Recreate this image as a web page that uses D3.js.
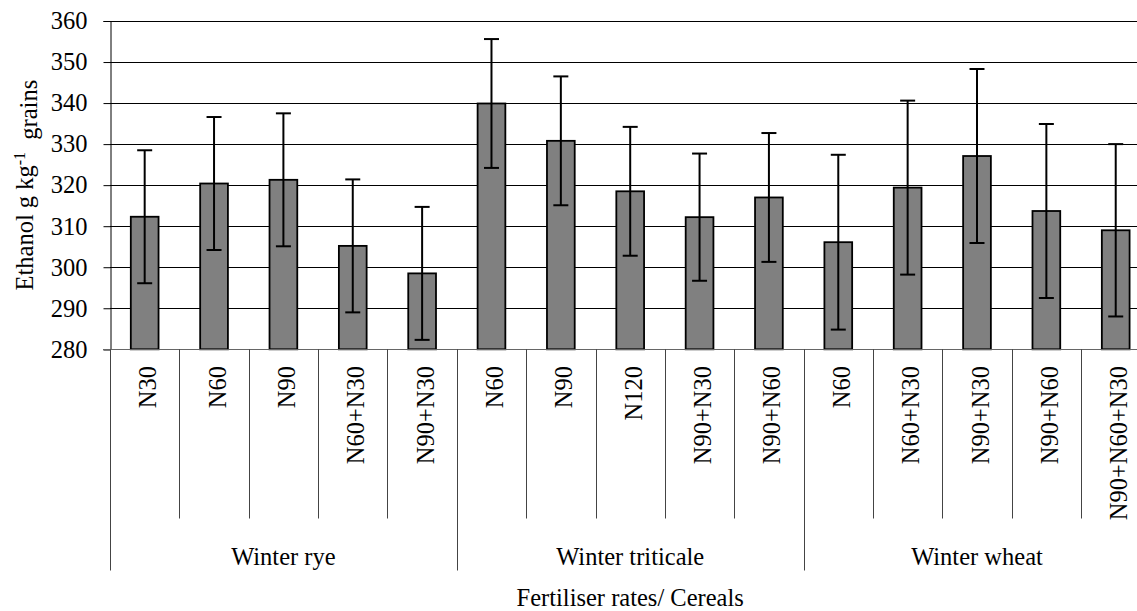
<!DOCTYPE html>
<html>
<head>
<meta charset="utf-8">
<script src="https://cdn.jsdelivr.net/npm/d3@7"></script>
<style>
  body { margin: 0; background: #fff; }
</style>
</head>
<body>
<script>
// data
var cereals = ["Winter rye", "Winter triticale", "Winter wheat"];
var rates = ["N30", "N60", "N90", "N60+N30", "N90+N30",
             "N60", "N90", "N120", "N90+N30", "N90+N60",
             "N60", "N60+N30", "N90+N30", "N90+N60", "N90+N60+N30"];
var cerealOf = [0, 0, 0, 0, 0, 1, 1, 1, 1, 1, 2, 2, 2, 2, 2];
var ethanol = [312.3, 320.4, 321.3, 305.2, 298.5,
               339.9, 330.8, 318.5, 312.2, 317.0,
               306.1, 319.4, 327.1, 313.7, 309.0];
var errs = [16.2, 16.2, 16.2, 16.2, 16.2,
            15.7, 15.7, 15.7, 15.5, 15.7,
            21.3, 21.2, 21.2, 21.2, 21.0];
var yTicks = [280, 290, 300, 310, 320, 330, 340, 350, 360];

var width = 1137, height = 611,
    plotLeft = 110, plotRight = 1150.4, plotTop = 21, plotBottom = 349.3,
    fontSize = 24.5;

// pick the first serif face that is really installed
var ctx = document.createElement("canvas").getContext("2d");
function w(f) { ctx.font = "24px " + f; return ctx.measureText("Winter rye 360 N90+N60").width; }
var base = w("monospace");
var serifFace = ["Liberation Serif", "Times New Roman", "Tinos", "DejaVu Serif", "Noto Serif", "FreeSerif"]
    .find(function(f) { return w("'" + f + "', monospace") !== base; });
var fontFamily = serifFace ? "'" + serifFace + "', serif" : "serif";

var svg = d3.select("body").append("svg")
    .attr("width", width)
    .attr("height", height)
    .attr("font-family", fontFamily);

var idx = d3.range(rates.length);
var x = d3.scaleBand().domain(idx).range([plotLeft, plotRight]).padding(0);
var y = d3.scaleLinear().domain([280, 360]).range([plotBottom, plotTop]);
var barW = x.bandwidth() * 0.4;

// gridlines
svg.append("g").selectAll("line")
    .data(yTicks.filter(function(d) { return d > 280; }))
    .join("line")
    .attr("x1", plotLeft).attr("x2", plotRight)
    .attr("y1", function(d) { return Math.round(y(d)) + 0.5; })
    .attr("y2", function(d) { return Math.round(y(d)) + 0.5; })
    .attr("stroke", "#000").attr("stroke-width", 1);

// y axis
var yAxis = d3.axisLeft(y).tickValues(yTicks).tickSize(7).tickPadding(16).tickFormat(d3.format("d"));
var yg = svg.append("g")
    .attr("transform", "translate(" + (plotLeft + 0.5) + ",0)")
    .call(yAxis)
    .attr("font-family", fontFamily)
    .attr("font-size", fontSize);
yg.select(".domain").attr("stroke", "#000");
yg.selectAll(".tick line").attr("stroke", "#000");
yg.selectAll(".tick text").attr("fill", "#000");

// bars
svg.append("g").selectAll("rect")
    .data(idx)
    .join("rect")
    .attr("x", function(i) { return x(i) + (x.bandwidth() - barW) / 2; })
    .attr("y", function(i) { return y(ethanol[i]); })
    .attr("width", barW)
    .attr("height", function(i) { return plotBottom - y(ethanol[i]); })
    .attr("fill", "#808080")
    .attr("stroke", "#000")
    .attr("stroke-width", 1.8);

// error bars
var eb = svg.append("g").attr("stroke", "#000").attr("stroke-width", 2);
idx.forEach(function(i) {
    var cx = x(i) + x.bandwidth() / 2;
    var hi = y(ethanol[i] + errs[i]), lo = y(ethanol[i] - errs[i]);
    eb.append("line").attr("x1", cx).attr("x2", cx).attr("y1", hi).attr("y2", lo);
    eb.append("line").attr("x1", cx - 7.5).attr("x2", cx + 7.5).attr("y1", hi).attr("y2", hi);
    eb.append("line").attr("x1", cx - 7.5).attr("x2", cx + 7.5).attr("y1", lo).attr("y2", lo);
});

// category axis baseline
svg.append("line")
    .attr("x1", plotLeft - 7).attr("x2", plotRight)
    .attr("y1", Math.round(plotBottom) + 0.5).attr("y2", Math.round(plotBottom) + 0.5)
    .attr("stroke", "#666").attr("stroke-width", 1.2);

// separators between rates and between cereals
var seps = d3.range(rates.length + 1);
svg.append("g").selectAll("line")
    .data(seps)
    .join("line")
    .attr("x1", function(k) { return Math.round(plotLeft + k * x.step()) + 0.5; })
    .attr("x2", function(k) { return Math.round(plotLeft + k * x.step()) + 0.5; })
    .attr("y1", plotBottom)
    .attr("y2", function(k) { return k % 5 === 0 ? 570.5 : 518.5; })
    .attr("stroke", "#444").attr("stroke-width", 1);

// rate labels (rotated)
svg.append("g").selectAll("text")
    .data(idx)
    .join("text")
    .attr("transform", function(i) {
        return "translate(" + (x(i) + x.bandwidth() / 2 + 3) + ",366) rotate(-90)";
    })
    .attr("dy", "0.35em")
    .attr("text-anchor", "end")
    .attr("font-size", fontSize)
    .text(function(i) { return rates[i]; });

// cereal labels
svg.append("g").selectAll("text")
    .data(cereals)
    .join("text")
    .attr("x", function(c, g) {
        var members = idx.filter(function(i) { return cerealOf[i] === g; });
        var a = x(members[0]), b = x(members[members.length - 1]) + x.bandwidth();
        return (a + b) / 2;
    })
    .attr("y", 565)
    .attr("text-anchor", "middle")
    .attr("font-size", fontSize)
    .text(function(c) { return c; });

// x axis title
svg.append("text")
    .attr("x", (plotLeft + plotRight) / 2)
    .attr("y", 606)
    .attr("text-anchor", "middle")
    .attr("font-size", fontSize)
    .text("Fertiliser rates/ Cereals");

// y axis title
var yt = svg.append("text")
    .attr("transform", "translate(33," + ((plotTop + plotBottom) / 2) + ") rotate(-90)")
    .attr("text-anchor", "middle")
    .attr("font-size", fontSize)
    .style("white-space", "pre");
yt.append("tspan").text("Ethanol g kg");
yt.append("tspan").attr("dy", "-0.5em").attr("font-size", 16).text("-1");
yt.append("tspan").attr("dy", "0.5em").text("  grains");
</script>
</body>
</html>
